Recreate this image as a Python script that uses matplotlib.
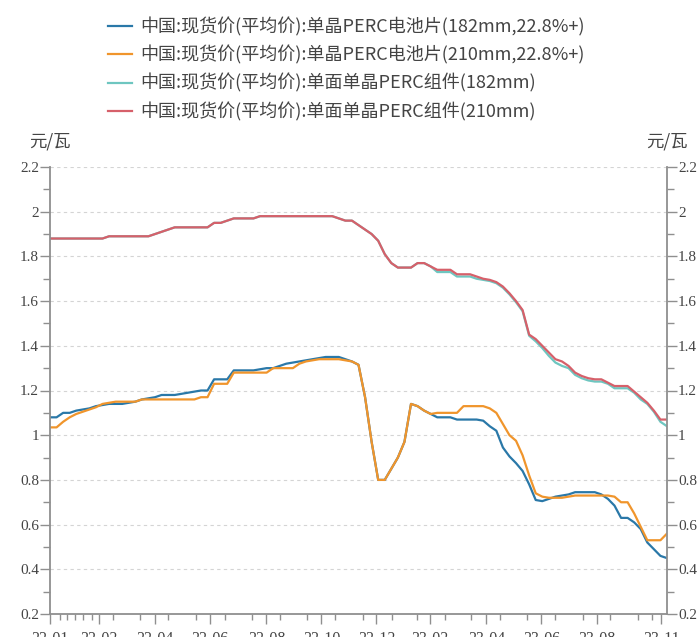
import numpy as np
import matplotlib
matplotlib.use("Agg")
import matplotlib.pyplot as plt

cjk = ['Noto Sans CJK SC', 'DejaVu Sans']
plt.rcParams['font.family'] = cjk

# weekly prices, yuan per watt
cell_182 = [1.08, 1.08, 1.10, 1.10, 1.11, 1.115, 1.12, 1.13, 1.135, 1.14,
            1.14, 1.14, 1.145, 1.15, 1.16, 1.165, 1.17, 1.18, 1.18, 1.18,
            1.185, 1.19, 1.195, 1.20, 1.20, 1.25, 1.25, 1.25, 1.29, 1.29,
            1.29, 1.29, 1.295, 1.30, 1.30, 1.31, 1.32, 1.325, 1.33, 1.335,
            1.34, 1.345, 1.35, 1.35, 1.35, 1.34, 1.33, 1.315, 1.17, 0.97,
            0.80, 0.80, 0.85, 0.90, 0.97, 1.14, 1.13, 1.11, 1.095, 1.08,
            1.08, 1.08, 1.07, 1.07, 1.07, 1.07, 1.065, 1.04, 1.02, 0.945,
            0.905, 0.875, 0.84, 0.78, 0.71, 0.705, 0.715, 0.725, 0.73, 0.735,
            0.745, 0.745, 0.745, 0.745, 0.735, 0.715, 0.685, 0.63, 0.63, 0.61,
            0.58, 0.52, 0.49, 0.46, 0.45]

cell_210 = [1.035, 1.035, 1.06, 1.08, 1.095, 1.105, 1.115, 1.125, 1.14, 1.145,
            1.15, 1.15, 1.15, 1.15, 1.16, 1.16, 1.16, 1.16, 1.16, 1.16,
            1.16, 1.16, 1.16, 1.17, 1.17, 1.23, 1.23, 1.23, 1.28, 1.28,
            1.28, 1.28, 1.28, 1.28, 1.30, 1.30, 1.30, 1.30, 1.32, 1.33,
            1.335, 1.34, 1.34, 1.34, 1.34, 1.335, 1.33, 1.315, 1.17, 0.97,
            0.80, 0.80, 0.85, 0.90, 0.97, 1.14, 1.13, 1.11, 1.095, 1.10,
            1.10, 1.10, 1.10, 1.13, 1.13, 1.13, 1.13, 1.12, 1.10, 1.05,
            1.00, 0.975, 0.91, 0.82, 0.74, 0.725, 0.72, 0.72, 0.72, 0.725,
            0.73, 0.73, 0.73, 0.73, 0.73, 0.73, 0.725, 0.70, 0.70, 0.65,
            0.59, 0.53, 0.53, 0.53, 0.56]

module_182 = [1.88, 1.88, 1.88, 1.88, 1.88, 1.88, 1.88, 1.88, 1.88, 1.89,
              1.89, 1.89, 1.89, 1.89, 1.89, 1.89, 1.90, 1.91, 1.92, 1.93,
              1.93, 1.93, 1.93, 1.93, 1.93, 1.95, 1.95, 1.96, 1.97, 1.97,
              1.97, 1.97, 1.98, 1.98, 1.98, 1.98, 1.98, 1.98, 1.98, 1.98,
              1.98, 1.98, 1.98, 1.98, 1.97, 1.96, 1.96, 1.94, 1.92, 1.90,
              1.87, 1.81, 1.77, 1.75, 1.75, 1.75, 1.77, 1.77, 1.755, 1.73,
              1.73, 1.73, 1.71, 1.71, 1.71, 1.70, 1.695, 1.69, 1.68, 1.66,
              1.63, 1.595, 1.555, 1.445, 1.42, 1.39, 1.355, 1.325, 1.31, 1.30,
              1.27, 1.255, 1.245, 1.24, 1.24, 1.23, 1.21, 1.21, 1.21, 1.19,
              1.16, 1.14, 1.105, 1.06, 1.04]

module_210 = [1.88, 1.88, 1.88, 1.88, 1.88, 1.88, 1.88, 1.88, 1.88, 1.89,
              1.89, 1.89, 1.89, 1.89, 1.89, 1.89, 1.90, 1.91, 1.92, 1.93,
              1.93, 1.93, 1.93, 1.93, 1.93, 1.95, 1.95, 1.96, 1.97, 1.97,
              1.97, 1.97, 1.98, 1.98, 1.98, 1.98, 1.98, 1.98, 1.98, 1.98,
              1.98, 1.98, 1.98, 1.98, 1.97, 1.96, 1.96, 1.94, 1.92, 1.90,
              1.87, 1.81, 1.77, 1.75, 1.75, 1.75, 1.77, 1.77, 1.755, 1.74,
              1.74, 1.74, 1.72, 1.72, 1.72, 1.71, 1.70, 1.695, 1.685, 1.665,
              1.635, 1.60, 1.56, 1.45, 1.43, 1.40, 1.37, 1.34, 1.33, 1.31,
              1.28, 1.265, 1.255, 1.25, 1.25, 1.235, 1.22, 1.22, 1.22, 1.195,
              1.17, 1.145, 1.11, 1.07, 1.07]

series_names = ["中国:现货价(平均价):单晶PERC电池片(182mm,22.8%+)",
                "中国:现货价(平均价):单晶PERC电池片(210mm,22.8%+)",
                "中国:现货价(平均价):单面单晶PERC组件(182mm)",
                "中国:现货价(平均价):单面单晶PERC组件(210mm)"]
colors = ["#2a78a8", "#f0952c", "#6ec6c0", "#d6606a"]

# x axis is the week index; tick positions in the same units
tick_labels = ["22-01", "22-02", "22-04", "22-06", "22-08", "22-10",
               "22-12", "23-02", "23-04", "23-06", "23-08", "23-11"]
tick_pos = [0, 7.47, 16.0, 24.38, 32.98, 41.36, 49.74, 57.89, 66.5, 74.88, 83.26, 93.16]
minor_pos = [1.5, 2.6, 3.8, 5.1, 6.4, 9.6, 13.7, 18.0, 22.3, 26.7, 30.7, 35.0, 39.1,
             43.4, 47.7, 52.1, 55.9, 60.2, 64.2, 68.6, 72.6, 76.9, 81.2, 85.3, 89.6, 91.7]

weeks = np.arange(len(cell_182))

fig = plt.figure(figsize=(6.99, 6.37), dpi=100)
ax = fig.add_axes([50/699, 1-614/637, 617/699, 447/637])

all_series = [cell_182, cell_210, module_182, module_210]
for vals, name, c in zip(all_series, series_names, colors):
    ax.plot(weeks, vals, color=c, lw=1.6, label=name, solid_joinstyle='round')

ax.set_xlim(0, len(weeks)-1)
ax.set_ylim(0.2, 2.2)
yt = np.round(np.arange(0.2, 2.21, 0.2), 1)
ax.set_yticks(yt)
ax.set_yticks(np.round(np.arange(0.3, 2.2, 0.2), 1), minor=True)
ax.set_yticklabels([("%g" % v) for v in yt])
ax.set_xticks(tick_pos)
ax.set_xticklabels(tick_labels)
ax.set_xticks(minor_pos, minor=True)

spine_c = "#8f8f8f"
for s in ["left", "right", "bottom"]:
    ax.spines[s].set_color(spine_c)
    ax.spines[s].set_linewidth(1.3)
ax.spines["top"].set_visible(False)

ax.tick_params(axis='y', which='both', left=True, right=True, labelleft=True, labelright=True,
               direction='out', color=spine_c, pad=1, labelsize=11, labelcolor="#444444")
ax.tick_params(axis='y', which='major', length=7, width=1)
ax.tick_params(axis='y', which='minor', length=5, width=1)
ax.tick_params(axis='x', which='major', length=7, width=1, color=spine_c, pad=5,
               labelsize=11.5, labelcolor="#444444")
ax.tick_params(axis='x', which='minor', length=4, width=1, color=spine_c)
for lab in ax.get_xticklabels() + ax.get_yticklabels():
    lab.set_family('Liberation Serif')

ax.grid(axis='y', which='major', color="#d4d4d4", linestyle=(0, (3, 3)), lw=0.8)
ax.set_axisbelow(True)

fig.text(49.5/699, 1-141.5/637, "元/瓦", ha='center', va='center', fontsize=12.5, color="#444444")
fig.text(667/699, 1-141.5/637, "元/瓦", ha='center', va='center', fontsize=12.5, color="#444444")

ax.legend(loc='upper left', bbox_to_anchor=(108/699, 1-17.5/637), bbox_transform=fig.transFigure,
          frameon=False, fontsize=13, handlelength=1.33, handletextpad=0.44,
          labelspacing=0.5, borderpad=0, borderaxespad=0, labelcolor="#444444")

plt.savefig("out.png", dpi=100)
